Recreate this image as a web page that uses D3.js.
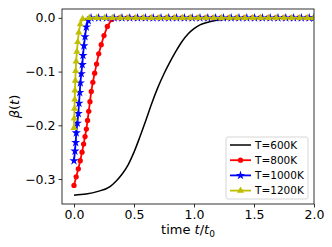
<!DOCTYPE html>
<html>
<head>
<meta charset="utf-8">
<script src="https://cdn.jsdelivr.net/npm/d3@7"></script>
<style>
  body { margin: 0; background: #fff; }
  text { font-family: "DejaVu Sans", sans-serif; }
</style>
</head>
<body>
<div id="chart"></div>
<script>
// data (t/t0, beta)
var t600 = [0, 0.1, 0.2, 0.3, 0.35, 0.4, 0.45, 0.5, 0.55, 0.6, 0.65, 0.7, 0.75, 0.8, 0.85, 0.9, 0.95, 1.0, 1.05, 1.1, 1.2, 1.3, 1.4, 1.6, 2.0];
var b600 = [-0.330, -0.328, -0.323, -0.314, -0.304, -0.291, -0.274, -0.250, -0.221, -0.190, -0.158, -0.129, -0.104, -0.082, -0.062, -0.044, -0.030, -0.020, -0.013, -0.009, -0.004, -0.002, -0.001, 0, 0];

var t800 = [0, 0.018, 0.036, 0.052, 0.067, 0.080, 0.092, 0.103, 0.113, 0.123, 0.133, 0.144, 0.157, 0.172, 0.188, 0.206, 0.227, 0.25, 0.278, 0.315,
    0.38, 0.445, 0.51, 0.575, 0.64, 0.705, 0.77, 0.835, 0.90, 0.965, 1.03, 1.095, 1.16, 1.225, 1.29, 1.355, 1.42, 1.485, 1.55, 1.615, 1.68, 1.745, 1.81, 1.875, 1.94, 2.0];
var b800 = [-0.312, -0.296, -0.281, -0.266, -0.250, -0.235, -0.221, -0.207, -0.191, -0.174, -0.156, -0.137, -0.120, -0.103, -0.086, -0.067, -0.050, -0.033, -0.016, -0.003,
    0, 0, 0, 0, 0, 0, 0, 0, 0, 0, 0, 0, 0, 0, 0, 0, 0, 0, 0, 0, 0, 0, 0, 0, 0, 0];

var t1000 = [0, 0.008, 0.014, 0.019, 0.028, 0.036, 0.042, 0.048, 0.053, 0.061, 0.069, 0.075, 0.083, 0.092, 0.103, 0.119, 0.142,
    0.205, 0.27, 0.335, 0.40, 0.465, 0.53, 0.595, 0.66, 0.725, 0.79, 0.855, 0.92, 0.985, 1.05, 1.115, 1.18, 1.245, 1.31, 1.375, 1.44, 1.505, 1.57, 1.635, 1.70, 1.765, 1.83, 1.895, 1.96, 2.0];
var b1000 = [-0.266, -0.248, -0.232, -0.214, -0.196, -0.178, -0.159, -0.139, -0.121, -0.104, -0.087, -0.070, -0.052, -0.035, -0.017, -0.005, 0,
    0, 0, 0, 0, 0, 0, 0, 0, 0, 0, 0, 0, 0, 0, 0, 0, 0, 0, 0, 0, 0, 0, 0, 0, 0, 0, 0, 0, 0];

var t1200 = [0, 0.002, 0.004, 0.006, 0.008, 0.011, 0.014, 0.018, 0.024, 0.031, 0.040, 0.052, 0.072, 0.128,
    0.19, 0.255, 0.32, 0.385, 0.45, 0.515, 0.58, 0.645, 0.71, 0.775, 0.84, 0.905, 0.97, 1.035, 1.10, 1.165, 1.23, 1.295, 1.36, 1.425, 1.49, 1.555, 1.62, 1.685, 1.75, 1.815, 1.88, 1.945, 2.0];
var b1200 = [-0.205, -0.187, -0.169, -0.152, -0.135, -0.117, -0.099, -0.081, -0.063, -0.045, -0.027, -0.012, -0.002, 0,
    0, 0, 0, 0, 0, 0, 0, 0, 0, 0, 0, 0, 0, 0, 0, 0, 0, 0, 0, 0, 0, 0, 0, 0, 0, 0, 0, 0, 0];

var xTicks = [0.0, 0.5, 1.0, 1.5, 2.0];
var yTicks = [0.0, -0.1, -0.2, -0.3];
var labels = ["T=600K", "T=800K", "T=1000K", "T=1200K"];

var svgWidth = 332;
var svgHeight = 247;
var margin = { top: 9, right: 18, bottom: 43, left: 62 };
var width = svgWidth - margin.left - margin.right;
var height = svgHeight - margin.top - margin.bottom;

var svg = d3.select("#chart")
    .append("svg")
    .attr("width", svgWidth)
    .attr("height", svgHeight);

var chartGroup = svg.append("g")
    .attr("transform", `translate(${margin.left}, ${margin.top})`);

var xScale = d3.scaleLinear().domain([-0.1, 2.0]).range([0, width]);
var yScale = d3.scaleLinear().domain([-0.3465, 0.0165]).range([height, 0]);

function zip(ts, bs) {
    return ts.map((t, i) => ({ t: t, b: bs[i] }));
}

var series = [
    { name: labels[0], data: zip(t600, b600), color: "#000000", marker: null },
    { name: labels[1], data: zip(t800, b800), color: "#ff0000", marker: "circle" },
    { name: labels[2], data: zip(t1000, b1000), color: "#0000ff", marker: "star" },
    { name: labels[3], data: zip(t1200, b1200), color: "#bfbf00", marker: "triangle" }
];

chartGroup.append("clipPath").attr("id", "clip")
    .append("rect").attr("x", -4).attr("y", -4).attr("width", width + 4).attr("height", height + 8);

var plot = chartGroup.append("g").attr("clip-path", "url(#clip)");

var smooth = d3.line().x(d => xScale(d.t)).y(d => yScale(d.b)).curve(d3.curveMonotoneX);
var straight = d3.line().x(d => xScale(d.t)).y(d => yScale(d.b));

function markerPath(kind) {
    if (kind === "circle") return d3.symbol().type(d3.symbolCircle).size(22)();
    if (kind === "star") return d3.symbol().type(d3.symbolStar).size(26)();
    return d3.symbol().type(d3.symbolTriangle).size(22)();
}

series.forEach(function (s) {
    plot.append("path")
        .datum(s.data)
        .attr("fill", "none")
        .attr("stroke", s.color)
        .attr("stroke-width", s.marker ? 1.8 : 1.5)
        .attr("d", s.marker ? straight : smooth);
    if (s.marker) {
        plot.selectAll(null)
            .data(s.data)
            .enter()
            .append("path")
            .attr("d", markerPath(s.marker))
            .attr("transform", d => `translate(${xScale(d.t)}, ${yScale(d.b)})`)
            .attr("fill", s.color);
    }
});

// axes
var bottomAxis = d3.axisBottom(xScale).tickValues(xTicks).tickFormat(d3.format(".1f")).tickSizeOuter(0).tickSize(3.5).tickPadding(3);
var leftAxis = d3.axisLeft(yScale).tickValues(yTicks).tickFormat(d => d === 0 ? "0.0" : "\u2212" + Math.abs(d).toFixed(1)).tickSizeOuter(0).tickSize(3.5).tickPadding(3);

var gx = chartGroup.append("g").attr("transform", `translate(0, ${height})`).call(bottomAxis);
var gy = chartGroup.append("g").call(leftAxis);
[gx, gy].forEach(function (g) {
    g.select(".domain").remove();
    g.selectAll("text").attr("font-size", 12.5).attr("fill", "#000").style("font-family", "DejaVu Sans");
    g.selectAll("line").attr("stroke", "#000").attr("stroke-width", 0.8);
});

chartGroup.append("rect")
    .attr("width", width)
    .attr("height", height)
    .attr("fill", "none")
    .attr("stroke", "#000")
    .attr("stroke-width", 0.8);

// axis labels
var ylab = svg.append("text")
    .attr("transform", `translate(18.5, ${margin.top + height / 2}) rotate(-90)`)
    .attr("text-anchor", "middle")
    .attr("font-size", 13);
ylab.append("tspan").attr("font-style", "italic").text("\u03b2");
ylab.append("tspan").text("(");
ylab.append("tspan").attr("font-style", "italic").text("t");
ylab.append("tspan").text(")");

var xlab = svg.append("text")
    .attr("x", margin.left + xScale(0.95))
    .attr("y", 234)
    .attr("text-anchor", "middle")
    .attr("font-size", 13);
xlab.append("tspan").text("time ");
xlab.append("tspan").attr("font-style", "italic").text("t");
xlab.append("tspan").text("/");
xlab.append("tspan").attr("font-style", "italic").text("t");
xlab.append("tspan").attr("font-size", 9).attr("dy", 3).text("0");

// legend
var legend = chartGroup.append("g").attr("transform", `translate(${226 - margin.left}, ${137 - margin.top})`);
legend.append("rect")
    .attr("width", 82)
    .attr("height", 62)
    .attr("rx", 2)
    .attr("fill", "#fff")
    .attr("fill-opacity", 0.8)
    .attr("stroke", "#cccccc")
    .attr("stroke-width", 0.8);

series.forEach(function (s, i) {
    var yy = 8 + i * 15.2;
    legend.append("line")
        .attr("x1", 4).attr("x2", 25)
        .attr("y1", yy).attr("y2", yy)
        .attr("stroke", s.color)
        .attr("stroke-width", s.marker ? 1.8 : 1.5);
    if (s.marker) {
        legend.append("path")
            .attr("d", markerPath(s.marker))
            .attr("transform", `translate(14.5, ${yy})`)
            .attr("fill", s.color);
    }
    legend.append("text")
        .attr("x", 29)
        .attr("y", yy)
        .attr("dy", "0.35em")
        .attr("font-size", 10.5)
        .text(s.name);
});
</script>
</body>
</html>
